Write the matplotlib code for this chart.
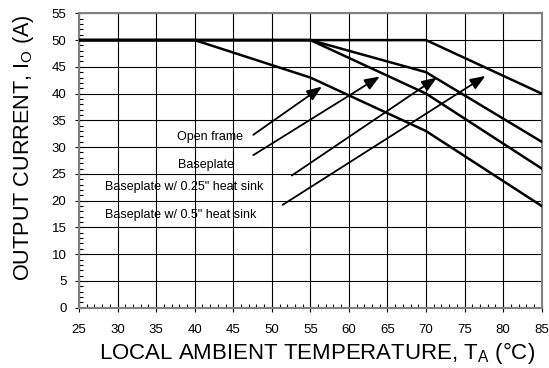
import matplotlib
matplotlib.use("Agg")
import matplotlib.pyplot as plt
from matplotlib.ticker import MultipleLocator

plt.rcParams.update({"font.family": ["Liberation Sans", "DejaVu Sans"],
    "mathtext.fontset": "custom", "mathtext.rm": "Liberation Sans",
    "mathtext.it": "Liberation Sans:italic", "mathtext.default": "rm"})

# derating curves (temperature degC, current A)
OPEN_T = [25, 40, 55, 70, 85]
OPEN_I = [50, 50, 43, 33, 19]
BASE_T = [25, 55, 70, 85]
BASE_I = [50, 50, 40, 26]
HS025_T = [25, 55, 70, 85]
HS025_I = [50, 50, 44, 31]
HS05_T = [25, 70, 85]
HS05_I = [50, 50, 40]

# annotation labels: (text, label x, label y, arrow tail, arrow head)
LABELS = ["Open frame", "Baseplate", 'Baseplate w/ 0.25" heat sink', 'Baseplate w/ 0.5" heat sink']
LABEL_XY = [(37.7, 31.9), (37.8, 26.7), (28.4, 22.6), (28.4, 17.3)]
TAIL_XY = [(47.6, 32.3), (47.6, 28.5), (52.6, 24.7), (51.4, 19.2)]
HEAD_XY = [(56.5, 41.3), (64.0, 43.2), (71.4, 43.0), (77.7, 43.3)]

fig = plt.figure(figsize=(5.49, 3.68), dpi=100)
ax = fig.add_axes([0.1439, 0.1639, 0.8428, 0.7999])

for t, i in [(OPEN_T, OPEN_I), (BASE_T, BASE_I), (HS025_T, HS025_I), (HS05_T, HS05_I)]:
    ax.plot(t, i, color="black", lw=1.8, zorder=3, solid_joinstyle="miter")

for lbl, (lx, ly), tail, head in zip(LABELS, LABEL_XY, TAIL_XY, HEAD_XY):
    ax.text(lx, ly, lbl, fontsize=9, ha="left", va="center", zorder=4)
    ax.annotate("", xy=head, xytext=tail,
                arrowprops=dict(arrowstyle="-|>,head_length=0.9,head_width=0.35",
                                color="black", lw=1.3, shrinkA=0, shrinkB=0), zorder=4)

ax.set_xlim(25, 85); ax.set_ylim(0, 55)
ax.xaxis.set_major_locator(MultipleLocator(5)); ax.yaxis.set_major_locator(MultipleLocator(5))
ax.xaxis.set_minor_locator(MultipleLocator(1)); ax.yaxis.set_minor_locator(MultipleLocator(1))
ax.grid(True, which="major", color="black", lw=0.8, zorder=1)
ax.tick_params(which="major", direction="inout", length=6, width=0.8, labelsize=9.5, pad=6)
ax.tick_params(axis="x", which="major", pad=9)
ax.tick_params(which="minor", direction="in", length=3, width=0.8)
for s in ax.spines.values():
    s.set_color("#808080"); s.set_linewidth(1.5)

ax.set_xlabel("LOCAL AMBIENT TEMPERATURE, T$_\\mathrm{A}$ (°C)", fontsize=16)
ax.set_ylabel("OUTPUT CURRENT, I$_\\mathrm{O}$ (A)", fontsize=15.6)
ax.xaxis.set_label_coords(0.515, -0.111)
ax.yaxis.set_label_coords(-0.093, 0.545)

fig.savefig("out.png", dpi=100)
